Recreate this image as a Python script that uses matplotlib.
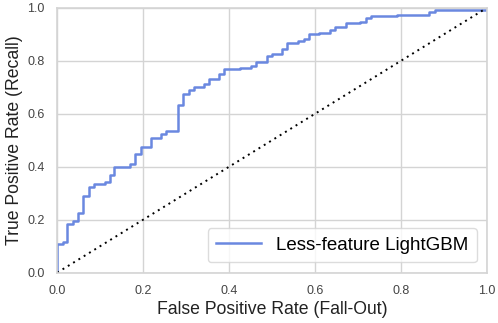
import numpy as np
import matplotlib.pyplot as plt

plt.rcParams['font.family'] = ['Liberation Sans', 'DejaVu Sans']

# ROC curve (step points)
fpr = [0.0, 0.0, 0.0125, 0.0125, 0.0233, 0.0233, 0.0357, 0.0357, 0.048, 0.048,
       0.0605, 0.0605, 0.073, 0.073, 0.0853, 0.0853, 0.110, 0.110, 0.1226, 0.1226,
       0.133, 0.133, 0.169, 0.169, 0.1815, 0.1815, 0.194, 0.194, 0.2187, 0.2187,
       0.242, 0.242, 0.254, 0.254, 0.2807, 0.2807, 0.293, 0.293, 0.306, 0.306,
       0.318, 0.318, 0.341, 0.341, 0.3535, 0.3535, 0.3768, 0.3768, 0.389, 0.389,
       0.425, 0.425, 0.45, 0.45, 0.462, 0.462, 0.487, 0.487, 0.4985, 0.4985,
       0.5226, 0.5226, 0.535, 0.535, 0.561, 0.561, 0.574, 0.574, 0.585, 0.585,
       0.609, 0.609, 0.634, 0.634, 0.6466, 0.6466, 0.671, 0.671, 0.7055, 0.7055,
       0.718, 0.718, 0.731, 0.731, 0.791, 0.791, 0.865, 0.865, 0.878, 0.878,
       1.0, 1.0]
tpr = [0.0, 0.107, 0.107, 0.117, 0.117, 0.183, 0.183, 0.193, 0.193, 0.226,
       0.226, 0.29, 0.29, 0.325, 0.325, 0.335, 0.335, 0.344, 0.344, 0.369,
       0.369, 0.40, 0.40, 0.409, 0.409, 0.448, 0.448, 0.476, 0.476, 0.51,
       0.51, 0.523, 0.523, 0.535, 0.535, 0.633, 0.633, 0.674, 0.674, 0.689,
       0.689, 0.699, 0.699, 0.712, 0.712, 0.732, 0.732, 0.75, 0.75, 0.767,
       0.767, 0.774, 0.774, 0.781, 0.781, 0.794, 0.794, 0.818, 0.818, 0.825,
       0.825, 0.843, 0.843, 0.866, 0.866, 0.873, 0.873, 0.883, 0.883, 0.90,
       0.90, 0.906, 0.906, 0.916, 0.916, 0.926, 0.926, 0.941, 0.941, 0.947,
       0.947, 0.96, 0.96, 0.969, 0.969, 0.974, 0.974, 0.983, 0.983, 0.991,
       0.991, 1.0]

fig = plt.figure(figsize=(4.98, 3.23), dpi=100)
ax = fig.add_axes([0.115, 0.156, 0.863, 0.820])

ax.plot(fpr, tpr, color='#6a88e0', lw=1.8, label='Less-feature LightGBM')
ax.plot([0, 1], [0, 1], color='black', lw=1.4, linestyle=(0, (1, 2.2)))

ax.set_xlim(0, 1)
ax.set_ylim(0, 1)
ax.set_xticks(np.arange(0, 1.01, 0.2))
ax.set_yticks(np.arange(0, 1.01, 0.2))
ax.grid(True, color='#d4d4d4', lw=1.0)
ax.set_axisbelow(True)
for s in ax.spines.values():
    s.set_color('#d4d4d4')
    s.set_linewidth(1.2)
ax.tick_params(length=0, labelsize=9, colors='#444444', pad=9)

ax.set_xlabel('False Positive Rate (Fall-Out)', fontsize=12.7, color='#222222', labelpad=3)
ax.set_ylabel('True Positive Rate (Recall)', fontsize=12.7, color='#222222', labelpad=3)

leg = ax.legend(loc='lower right', fontsize=13.5, frameon=True, handlelength=2.4,
                borderpad=0.45, fancybox=True, borderaxespad=0.55)
leg.get_frame().set_edgecolor('#d4d4d4')

fig.savefig('out.png', dpi=100)
